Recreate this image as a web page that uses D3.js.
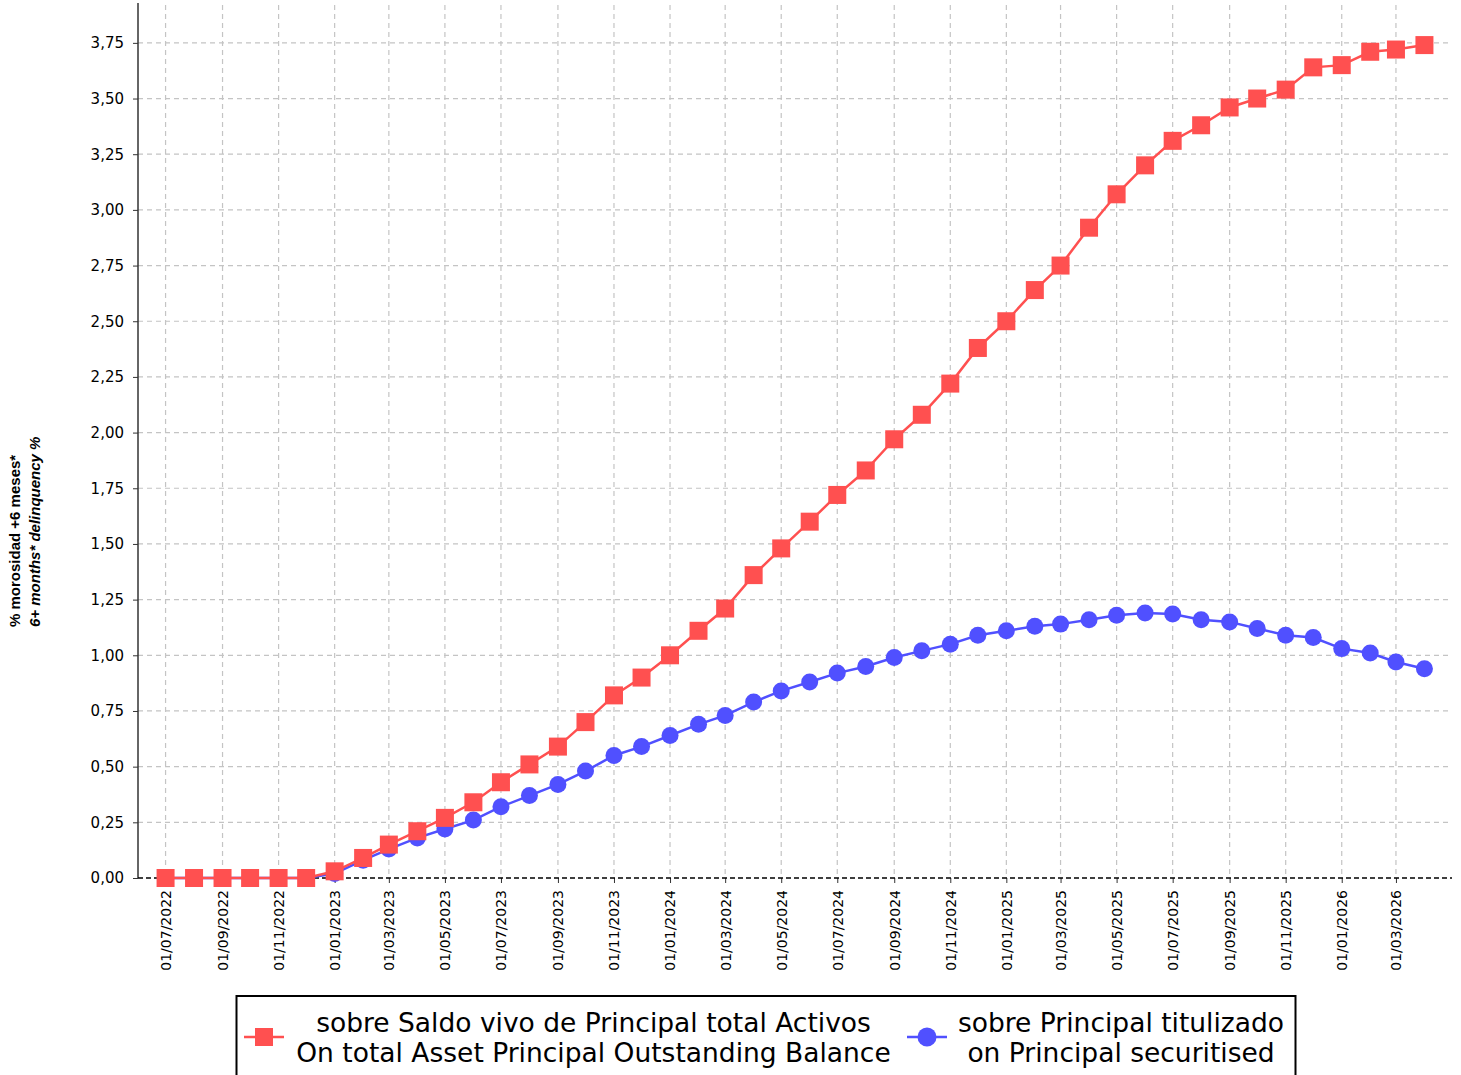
<!DOCTYPE html>
<html><head><meta charset="utf-8">
<script src="https://cdn.jsdelivr.net/npm/d3@7"></script>
<style>body{margin:0;background:#fff;} svg{display:block;font-family:"DejaVu Sans",sans-serif;}</style>
</head><body>
<svg id="c" width="1461" height="1075"></svg>
<script>
const months = ["2022-07","2022-08","2022-09","2022-10","2022-11","2022-12",
"2023-01","2023-02","2023-03","2023-04","2023-05","2023-06","2023-07","2023-08","2023-09","2023-10","2023-11","2023-12",
"2024-01","2024-02","2024-03","2024-04","2024-05","2024-06","2024-07","2024-08","2024-09","2024-10","2024-11","2024-12",
"2025-01","2025-02","2025-03","2025-04","2025-05","2025-06","2025-07","2025-08","2025-09","2025-10","2025-11","2025-12",
"2026-01","2026-02","2026-03","2026-04"];
const totalAssets = [0,0,0,0,0,0,
0.03,0.09,0.15,0.21,0.27,0.34,0.43,0.51,0.59,0.70,0.82,0.90,
1.00,1.11,1.21,1.36,1.48,1.60,1.72,1.83,1.97,2.08,2.22,2.38,
2.50,2.64,2.75,2.92,3.07,3.20,3.31,3.38,3.46,3.50,3.54,3.64,
3.65,3.71,3.72,3.74];
const securitised = [0,0,0,0,0,0,
0.02,0.08,0.13,0.18,0.22,0.26,0.32,0.37,0.42,0.48,0.55,0.59,
0.64,0.69,0.73,0.79,0.84,0.88,0.92,0.95,0.99,1.02,1.05,1.09,
1.11,1.13,1.14,1.16,1.18,1.19,1.185,1.16,1.15,1.12,1.09,1.08,
1.03,1.01,0.97,0.94];
const yTicks = [0,0.25,0.5,0.75,1,1.25,1.5,1.75,2,2.25,2.5,2.75,3,3.25,3.5,3.75];
const xTickLabels = ["01/07/2022","01/09/2022","01/11/2022","01/01/2023","01/03/2023","01/05/2023","01/07/2023","01/09/2023","01/11/2023","01/01/2024","01/03/2024","01/05/2024","01/07/2024","01/09/2024","01/11/2024","01/01/2025","01/03/2025","01/05/2025","01/07/2025","01/09/2025","01/11/2025","01/01/2026","01/03/2026"];
const legendLabels = [["sobre Saldo vivo de Principal total Activos","On total Asset Principal Outstanding Balance"],["sobre Principal titulizado","on Principal securitised"]];
const yLabel = ["% morosidad +6 meses*","6+ months* delinquency %"];

const parseM = d3.timeParse("%Y-%m");
const parseD = d3.timeParse("%d/%m/%Y");
const dates = months.map(parseM);
const svg = d3.select("#c");
const L=138, R=1452, T=5, B=878;
const x = d3.scaleTime().domain([new Date(2022,5,1), new Date(2026,4,1)]).range([L,R]);
const y = d3.scaleLinear().domain([0,3.92]).range([B,T]);
const fmt = v => d3.format(".2f")(v).replace(".",",");
const xTicks = xTickLabels.map(parseD);

// grid
const g = svg.append("g");
g.selectAll(".hg").data(yTicks.slice(1)).join("line")
  .attr("x1",L).attr("x2",R).attr("y1",d=>y(d)).attr("y2",d=>y(d))
  .attr("stroke","#c4c4c4").attr("stroke-width",1.2).attr("stroke-dasharray","5,4");
g.selectAll(".vg").data(xTicks).join("line")
  .attr("x1",d=>x(d)).attr("x2",d=>x(d)).attr("y1",T).attr("y2",B)
  .attr("stroke","#c4c4c4").attr("stroke-width",1.2).attr("stroke-dasharray","5,4");

// axes
const ya = svg.append("g").attr("transform",`translate(${L},0)`)
  .call(d3.axisLeft(y).tickValues(yTicks).tickFormat(fmt).tickSize(5).tickPadding(9));
ya.select(".domain").attr("stroke","#333").attr("stroke-width",1.5).attr("d",`M0,${B}V3`);
ya.selectAll("text").attr("font-size",15).attr("fill","#000").attr("font-family","DejaVu Sans");
ya.selectAll(".tick line").attr("stroke","#333");

const xa = svg.append("g").attr("transform",`translate(0,${B})`)
  .call(d3.axisBottom(x).tickValues(xTicks).tickFormat(d3.timeFormat("%d/%m/%Y")).tickSize(5).tickPadding(6));
xa.select(".domain").remove();
xa.selectAll(".tick line").attr("stroke","#333");
xa.selectAll("text").attr("font-size",14).attr("fill","#000").attr("font-family","DejaVu Sans")
  .attr("transform","rotate(-90)").attr("text-anchor","end").attr("dy","0.35em").attr("x",-12).attr("y",0);
svg.append("line").attr("x1",L).attr("x2",R).attr("y1",B).attr("y2",B)
  .attr("stroke","#000").attr("stroke-width",1.3).attr("stroke-dasharray","5,3");

// series
const red="#ff5050", blue="#5050ff";
const line = d3.line().x((d,i)=>x(dates[i])).y(d=>y(d));
svg.append("path").datum(securitised).attr("d",line).attr("fill","none").attr("stroke",blue).attr("stroke-width",2.5);
svg.selectAll(".bc").data(securitised).join("circle")
  .attr("cx",(d,i)=>x(dates[i])).attr("cy",d=>y(d)).attr("r",8.5).attr("fill",blue);
svg.append("path").datum(totalAssets).attr("d",line).attr("fill","none").attr("stroke",red).attr("stroke-width",2.5);
const s=18;
svg.selectAll(".rs").data(totalAssets).join("rect")
  .attr("x",(d,i)=>x(dates[i])-s/2).attr("y",d=>y(d)-s/2).attr("width",s).attr("height",s).attr("fill",red);

// y label
const yl = svg.append("text").attr("transform","translate(20,627) rotate(-90)").attr("text-anchor","start")
  .attr("font-size",15).attr("font-weight","bold").attr("font-family","'Liberation Sans', Arial, sans-serif");
yl.append("tspan").attr("x",0).attr("dy",0).text(yLabel[0]);
yl.append("tspan").attr("x",0).attr("dy","1.3em").attr("font-style","italic").text(yLabel[1]);

// legend
const lg = svg.append("g");
lg.append("rect").attr("x",236.5).attr("y",996).attr("width",1059).attr("height",100)
  .attr("fill","#fff").attr("stroke","#000").attr("stroke-width",2);
const entries=[{c:red,sh:"sq",x0:244,tx:593.5},{c:blue,sh:"ci",x0:907,tx:1121}];
entries.forEach((e,i)=>{
  const cy=1037;
  lg.append("line").attr("x1",e.x0).attr("x2",e.x0+40).attr("y1",cy).attr("y2",cy).attr("stroke",e.c).attr("stroke-width",2.5);
  if(e.sh==="sq") lg.append("rect").attr("x",e.x0+20-9).attr("y",cy-9).attr("width",18).attr("height",18).attr("fill",e.c);
  else lg.append("circle").attr("cx",e.x0+20).attr("cy",cy).attr("r",9.5).attr("fill",e.c);
  const t=lg.append("text").attr("text-anchor","middle").attr("font-size",26.5).attr("font-family","DejaVu Sans");
  t.append("tspan").attr("x",e.tx).attr("y",1032).text(legendLabels[i][0]);
  t.append("tspan").attr("x",e.tx).attr("y",1062).text(legendLabels[i][1]);
});
</script>
</body></html>
